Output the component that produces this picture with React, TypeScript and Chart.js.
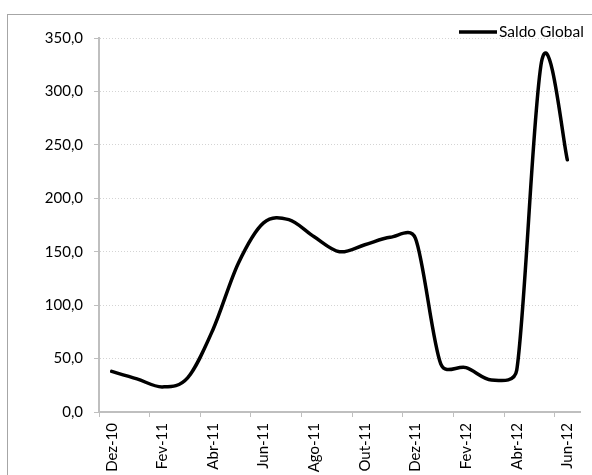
import React, { useEffect, useRef } from "react";
import { Chart, registerables } from "chart.js";

Chart.register(...registerables);

const months = [
  "Dez-10", "Jan-11", "Fev-11", "Mar-11", "Abr-11", "Mai-11", "Jun-11",
  "Jul-11", "Ago-11", "Set-11", "Out-11", "Nov-11", "Dez-11",
  "Jan-12", "Fev-12", "Mar-12", "Abr-12", "Mai-12", "Jun-12",
];

const saldoGlobal = [
  38, 31, 23.5, 32, 77, 139, 177,
  180, 164, 150, 156.5, 163.5, 162.5,
  45, 41.5, 30, 39, 330, 236,
];

const seriesLabel = "Saldo Global";

const yTicks = [0, 50, 100, 150, 200, 250, 300, 350];

const FONT = "Lato";

const framePlugin = {
  id: "frame",
  beforeDraw(chart: any) {
    const ctx = chart.ctx;
    ctx.save();
    ctx.fillStyle = "#ffffff";
    ctx.fillRect(0, 0, chart.width, chart.height);
    ctx.strokeStyle = "#a6a6a6";
    ctx.lineWidth = 1;
    ctx.strokeRect(7.5, 14.5, chart.width + 20, chart.height + 20);
    ctx.restore();
  },
};

// Excel-style smoothing: tangent parallel to neighbours, arm = min(|P(i+1)-P(i-1)|/6, segment/2)
const excelSmoothPlugin = {
  id: "excelSmooth",
  beforeDatasetDraw(chart: any, args: any) {
    const meta = args.meta;
    const line = meta.dataset;
    if (!line) return;
    if (typeof line.updateControlPoints === "function") {
      line.updateControlPoints(chart.chartArea, meta.indexAxis);
    }
    const pts = meta.data;
    const n = pts.length;
    for (let i = 0; i < n - 1; i++) {
      const p1 = pts[i];
      const p2 = pts[i + 1];
      const p0 = i > 0 ? pts[i - 1] : p1;
      const p3 = i + 2 < n ? pts[i + 2] : p2;
      const d12 = Math.hypot(p2.x - p1.x, p2.y - p1.y);
      const v1x = p2.x - p0.x;
      const v1y = p2.y - p0.y;
      const d02 = Math.hypot(v1x, v1y);
      const v2x = p3.x - p1.x;
      const v2y = p3.y - p1.y;
      const d13 = Math.hypot(v2x, v2y);
      const a1 = Math.min(d02 / 6, d12 / 2);
      const a2 = Math.min(d13 / 6, d12 / 2);
      p1.cp2x = p1.x + (d02 ? (v1x / d02) * a1 : 0);
      p1.cp2y = p1.y + (d02 ? (v1y / d02) * a1 : 0);
      p2.cp1x = p2.x - (d13 ? (v2x / d13) * a2 : 0);
      p2.cp1y = p2.y - (d13 ? (v2y / d13) * a2 : 0);
    }
    if (n) {
      pts[0].cp1x = pts[0].x;
      pts[0].cp1y = pts[0].y;
      pts[n - 1].cp2x = pts[n - 1].x;
      pts[n - 1].cp2y = pts[n - 1].y;
    }
    line._pointsUpdated = true;
    delete line._path;
  },
};

const legendPlugin = {
  id: "customLegend",
  afterDraw(chart: any) {
    const ctx = chart.ctx;
    const ds = chart.data.datasets[0];
    const y = 32;
    const xLineStart = 459;
    const xLineEnd = 497;
    ctx.save();
    ctx.strokeStyle = ds.borderColor;
    ctx.lineWidth = 3.5;
    ctx.lineCap = "butt";
    ctx.beginPath();
    ctx.moveTo(xLineStart, y);
    ctx.lineTo(xLineEnd, y);
    ctx.stroke();
    ctx.fillStyle = "#000000";
    ctx.font = `15.5px ${FONT}`;
    ctx.textBaseline = "middle";
    ctx.textAlign = "left";
    ctx.fillText(ds.label, xLineEnd + 2, y);
    ctx.restore();
  },
};

export default function App() {
  const canvasRef = useRef<HTMLCanvasElement | null>(null);

  useEffect(() => {
    if (!canvasRef.current) return;
    const chart = new Chart(canvasRef.current, {
      type: "line",
      data: {
        labels: months,
        datasets: [
          {
            label: seriesLabel,
            data: saldoGlobal,
            borderColor: "#000000",
            backgroundColor: "#000000",
            borderWidth: 3.5,
            borderCapStyle: "round",
            borderJoinStyle: "round",
            pointRadius: 0,
            pointHoverRadius: 0,
            tension: 0.4,
            fill: false,
          },
        ],
      },
      options: {
        animation: false,
        responsive: false,
        maintainAspectRatio: false,
        events: [],
        layout: { padding: { top: 38, right: 12, left: 0, bottom: 0 } },
        plugins: {
          legend: { display: false },
          tooltip: { enabled: false },
        },
        scales: {
          x: {
            type: "category",
            offset: true,
            afterFit(scale: any) {
              scale.height = 63;
            },
            grid: {
              offset: true,
              drawOnChartArea: false,
              drawTicks: true,
              tickLength: 5,
              lineWidth: 1,
              color: (c: any) =>
                c.index % 2 === 0 && c.index < months.length ? "#bfbfbf" : "rgba(0,0,0,0)",
              tickColor: (c: any) =>
                c.index % 2 === 0 && c.index < months.length ? "#bfbfbf" : "rgba(0,0,0,0)",
            },
            border: { display: true, color: "#bfbfbf", width: 2 },
            ticks: {
              autoSkip: false,
              minRotation: 90,
              maxRotation: 90,
              padding: 6,
              color: "#000000",
              font: { family: FONT, size: 15 },
              callback: (_v: any, i: number) => (i % 2 === 0 ? months[i] : ""),
            },
          },
          y: {
            min: yTicks[0],
            max: yTicks[yTicks.length - 1],
            afterFit(scale: any) {
              scale.width = 99;
            },
            afterBuildTicks(scale: any) {
              scale.ticks = yTicks.map((v) => ({ value: v }));
            },
            grid: {
              color: "#d4d4d4",
              lineWidth: 1,
              drawTicks: true,
              tickLength: 5,
              tickColor: "#bfbfbf",
              tickBorderDash: [],
            },
            border: { display: true, color: "#bfbfbf", width: 2, dash: [1, 2] },
            ticks: {
              padding: 11,
              color: "#000000",
              font: { family: FONT, size: 15 },
              callback: (v: any) => Number(v).toFixed(1).replace(".", ","),
            },
          },
        },
      },
      plugins: [framePlugin, excelSmoothPlugin, legendPlugin],
    });
    return () => chart.destroy();
  }, []);

  return (
    <div
      style={{
        position: "fixed",
        left: 0,
        top: 0,
        width: 592,
        height: 475,
        overflow: "hidden",
        background: "#ffffff",
      }}
    >
      <canvas ref={canvasRef} width={592} height={475} style={{ display: "block" }} />
    </div>
  );
}
